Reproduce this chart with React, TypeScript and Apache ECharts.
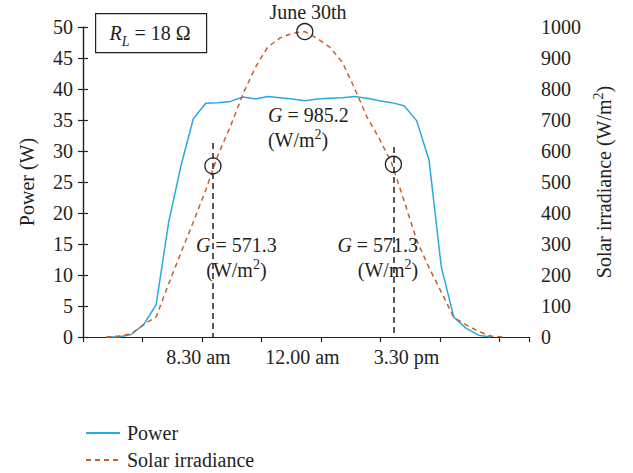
import React, { useEffect, useRef } from "react";
import * as echarts from "echarts";

// Time axis: hours from the start of the axis (axis spans 0..15 h)
const timeH = [
  0.79, 1.21, 1.62, 2.04, 2.46, 2.88, 3.29, 3.71, 4.13, 4.54, 4.96, 5.38, 5.8,
  6.21, 6.63, 7.05, 7.46, 7.88, 8.3, 8.72, 9.13, 9.55, 9.97, 10.38, 10.8,
  11.22, 11.64, 12.05, 12.47, 12.89, 13.3, 13.72, 14.14,
];
const powerW = [
  0, 0, 0.4, 2.0, 5.2, 18.5, 27.5, 35.2, 37.7, 37.8, 38.0, 38.7, 38.4, 38.8,
  38.6, 38.4, 38.1, 38.4, 38.5, 38.6, 38.8, 38.5, 38.1, 37.8, 37.3, 34.9, 28.5,
  11.3, 3.2, 1.4, 0.3, 0,
];
const irradiance = [
  0, 3, 10, 40, 65, 171, 271, 371, 474, 587, 680, 784, 870, 935, 965, 980,
  985.2, 963, 935, 887, 803, 710, 639, 561, 439, 313, 223, 145, 63, 39, 18, 3,
  0,
];
const tickStepH = 2;
const timeLabelPos = [3.88, 7.38, 10.88];
const timeLabels = ["8.30 am", "12.00 am", "3.30 pm"];

// Marked irradiance readings
const markHours = [4.37, 7.46, 10.44];
const markG = [552, 985.2, 557];
const markLabelsG = ["571.3", "985.2", "571.3"];
const dashTop = [626, 1005, 613];

const FONT = "'Liberation Serif', 'DejaVu Serif', serif";
const INK = "#231f20";
const BLUE = "#29a9e1";
const ORANGE = "#c8602b";

export default function App() {
  const ref = useRef<HTMLDivElement>(null);
  useEffect(() => {
    if (!ref.current) return;
    const chart = echarts.init(ref.current, null, { renderer: "svg" });
    const txt = { fontFamily: FONT, fontSize: 20, color: INK };
    const rich = {
      g: { fontFamily: FONT, fontSize: 20, fontStyle: "italic", color: INK },
      n: { fontFamily: FONT, fontSize: 20, color: INK },
      sup: { fontFamily: FONT, fontSize: 14, color: INK, verticalAlign: "top", lineHeight: 25 },
    };
    const labelAnchors = [
      { coord: [5.16, 255], align: "center" },
      { coord: [6.22, 676], align: "left" },
      { coord: [11.27, 255], align: "right" },
    ];
    const axisLineStyle = { color: INK, width: 1.2 };
    chart.setOption({
      animation: false,
      textStyle: { fontFamily: FONT },
      grid: { left: 83, right: 104, top: 27, bottom: 136, containLabel: false },
      xAxis: [
        {
          type: "value",
          min: 0,
          max: 15,
          splitLine: { show: false },
          axisLine: { show: true, lineStyle: axisLineStyle },
          axisTick: { show: false },
          axisLabel: {
            customValues: timeLabelPos,
            ...txt,
            margin: 10,
            formatter: (v: number) => {
              let best = 0;
              timeLabelPos.forEach((p, i) => {
                if (Math.abs(p - v) < Math.abs(timeLabelPos[best] - v)) best = i;
              });
              return timeLabels[best];
            },
          },
        },
        {
          type: "value",
          position: "bottom",
          min: 0,
          max: 15,
          interval: tickStepH,
          splitLine: { show: false },
          axisLine: { show: false },
          axisTick: { show: true, length: 5, lineStyle: axisLineStyle },
          axisLabel: { show: false },
        },
      ],
      yAxis: [
        {
          type: "value",
          min: 0,
          max: 50,
          interval: 5,
          name: "Power (W)",
          nameLocation: "middle",
          nameGap: 46,
          nameTextStyle: { ...txt },
          splitLine: { show: false },
          axisLine: { show: true, lineStyle: axisLineStyle },
          axisTick: { show: true, length: 5, lineStyle: axisLineStyle },
          axisLabel: { ...txt, margin: 10 },
        },
        {
          type: "value",
          min: 0,
          max: 1000,
          interval: 100,
          position: "right",
          name: "{n|Solar irradiance (W/m}{sup|2}{n|)}",
          nameLocation: "middle",
          nameGap: 57,
          nameRotate: 90,
          nameTextStyle: { ...txt, rich },
          splitLine: { show: false },
          axisLine: { show: true, lineStyle: axisLineStyle },
          axisTick: { show: true, length: 5, lineStyle: axisLineStyle },
          axisLabel: { ...txt, margin: 12, formatter: (v: number) => String(v) },
        },
      ],
      legend: {
        orient: "vertical",
        left: 80,
        top: 418,
        height: 60,
        itemWidth: 34,
        itemHeight: 14,
        itemGap: 7,
        itemStyle: { opacity: 0 },
        textStyle: { ...txt, padding: [0, 0, 0, 2] },
        data: ["Power", "Solar irradiance"],
      },
      series: [
        {
          name: "Power",
          type: "line",
          yAxisIndex: 0,
          symbol: "none",
          lineStyle: { color: BLUE, width: 1.5 },
          itemStyle: { color: BLUE },
          data: powerW.map((p, i) => [timeH[i], p]),
          z: 2,
        },
        {
          name: "Solar irradiance",
          type: "line",
          yAxisIndex: 1,
          symbol: "none",
          lineStyle: { color: ORANGE, width: 1.5, type: [5, 4] },
          itemStyle: { color: ORANGE },
          data: irradiance.map((g, i) => [timeH[i], g]),
          z: 3,
          markLine: {
            silent: true,
            symbol: ["none", "none"],
            label: { show: false },
            lineStyle: { color: INK, width: 1.5, type: [6, 4] },
            data: markHours.map((h, i) => [
              { coord: [h, dashTop[i]] },
              { coord: [h, 0] },
            ]),
          },
          markPoint: {
            silent: true,
            data: [
              ...markHours.map((h, i) => ({
                coord: [h, markG[i]],
                symbol: "circle",
                symbolSize: 16,
                itemStyle: {
                  color: "rgba(0,0,0,0)",
                  borderColor: INK,
                  borderWidth: 1.3,
                },
                label: { show: false },
              })),
              ...labelAnchors.map((a, i) => ({
                coord: a.coord,
                symbol: "circle",
                symbolSize: 0,
                label: {
                  show: true,
                  position: [0, 0],
                  align: a.align,
                  verticalAlign: "middle",
                  lineHeight: 25,
                  formatter: `{g|G}{n| = ${markLabelsG[i]}}\n{n|(W/m}{sup|2}{n|)}`,
                  rich,
                },
              })),
            ],
          },
        },
      ],
      graphic: [
        {
          type: "rect",
          left: 95,
          top: 13,
          shape: { width: 111, height: 39 },
          style: { fill: "#fff", stroke: INK, lineWidth: 1.2 },
          z: 10,
        },
        {
          type: "text",
          x: 150,
          y: 33,
          z: 11,
          style: {
            text: "{i|R}{s|L}{n| = 18 Ω}",
            align: "center",
            verticalAlign: "middle",
            rich: {
              i: { fontFamily: FONT, fontSize: 20, fontStyle: "italic", fill: INK, lineHeight: 30, verticalAlign: "middle" },
              s: { fontFamily: FONT, fontSize: 14, fontStyle: "italic", fill: INK, lineHeight: 30, verticalAlign: "bottom" },
              n: { fontFamily: FONT, fontSize: 20, fill: INK, lineHeight: 30, verticalAlign: "middle" },
            },
          },
        },
        {
          type: "text",
          x: 308,
          y: 12,
          z: 11,
          style: {
            text: "June 30th",
            fontFamily: FONT,
            fontSize: 20,
            fill: INK,
            align: "center",
            verticalAlign: "middle",
          },
        },
      ],
    });
    return () => chart.dispose();
  }, []);
  return (
    <div
      ref={ref}
      style={{ position: "absolute", left: 0, top: 0, width: 633, height: 473 }}
    />
  );
}
